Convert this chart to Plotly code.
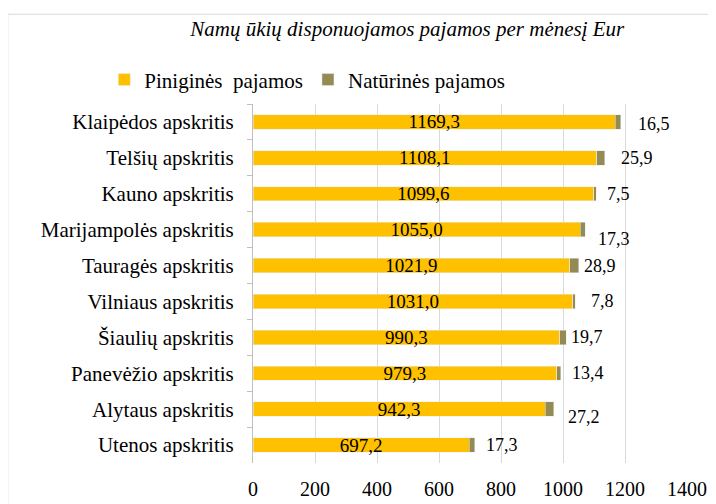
import plotly.graph_objects as go

categories = ["Klaipėdos apskritis", "Telšių apskritis", "Kauno apskritis",
              "Marijampolės apskritis", "Tauragės apskritis", "Vilniaus apskritis",
              "Šiaulių apskritis", "Panevėžio apskritis", "Alytaus apskritis",
              "Utenos apskritis"]
piniginės = [1169.3, 1108.1, 1099.6, 1055.0, 1021.9, 1031.0, 990.3, 979.3, 942.3, 697.2]
natūrinės = [16.5, 25.9, 7.5, 17.3, 28.9, 7.8, 19.7, 13.4, 27.2, 17.3]
x_ticks = [0, 200, 400, 600, 800, 1000, 1200, 1400]

# label nudges (style only, px)
label_dx = [15, 14, 9, 11, 3, 14, 3, 9, 12, 9]
label_dy = [-2, 0, 0, -9, 0, 0, 0, 0, -8, 0]

FONT = "Liberation Serif"
fmt = lambda v: f"{v:.1f}".replace(".", ",")

fig = go.Figure()
fig.add_trace(go.Bar(
    y=categories, x=piniginės, orientation="h", name="Piniginės\u00a0 pajamos",
    marker=dict(color="#FFC000"), width=0.4,
    text=[fmt(v) for v in piniginės], textposition="inside",
    insidetextanchor="middle", constraintext="none",
    textfont=dict(family=FONT, size=19, color="black"),
))
fig.add_trace(go.Bar(
    y=categories, x=natūrinės, orientation="h", name="Natūrinės pajamos",
    marker=dict(color="#948A54"), width=0.4,
))

for c, p, n, dx, dy in zip(categories, piniginės, natūrinės, label_dx, label_dy):
    fig.add_annotation(x=p + n, y=c, text=fmt(n), showarrow=False,
                       xanchor="left", xshift=dx, yshift=dy,
                       font=dict(family=FONT, size=18, color="black"))

# outer chart border (paper coords relative to plot area)
fig.add_shape(type="rect", xref="paper", yref="paper",
              x0=-0.565, x1=1.2, y0=-0.3, y1=1.25,
              line=dict(color="#d9d9d9", width=1), fillcolor="rgba(0,0,0,0)",
              layer="below")

W, H = 708, 496  # page body adds an 8px offset
fig.update_layout(
    barmode="stack",
    width=W, height=H,
    margin=dict(l=245, r=29, t=96, b=41, autoexpand=False),
    paper_bgcolor="white", plot_bgcolor="white",
    font=dict(family=FONT, size=20, color="black"),
    title=dict(text="<i>Namų ūkių disponuojamos pajamos per mėnesį Eur</i>",
               x=0.564, xanchor="center", y=0.958, yanchor="middle",
               font=dict(family=FONT, size=21, color="black")),
    legend=dict(orientation="h", xref="container", yref="container",
                x=0.136, y=0.855, yanchor="middle", xanchor="left",
                font=dict(family=FONT, size=21, color="black"),
                itemclick=False, traceorder="normal"),
    showlegend=True,
    xaxis=dict(range=[0, 1400], tickvals=x_ticks, showgrid=True,
               gridcolor="#d9d9d9", gridwidth=1, zeroline=False, showline=False,
               ticks="", ticklabelstandoff=12, automargin=False,
               tickfont=dict(family=FONT, size=20, color="black")),
    yaxis=dict(autorange="reversed", showline=True, linecolor="#bfbfbf",
               ticks="outside", tickson="boundaries", ticklen=5,
               tickcolor="#bfbfbf", ticklabelstandoff=14, automargin=False,
               tickfont=dict(family=FONT, size=21, color="black")),
)

fig.write_html("out.html")
